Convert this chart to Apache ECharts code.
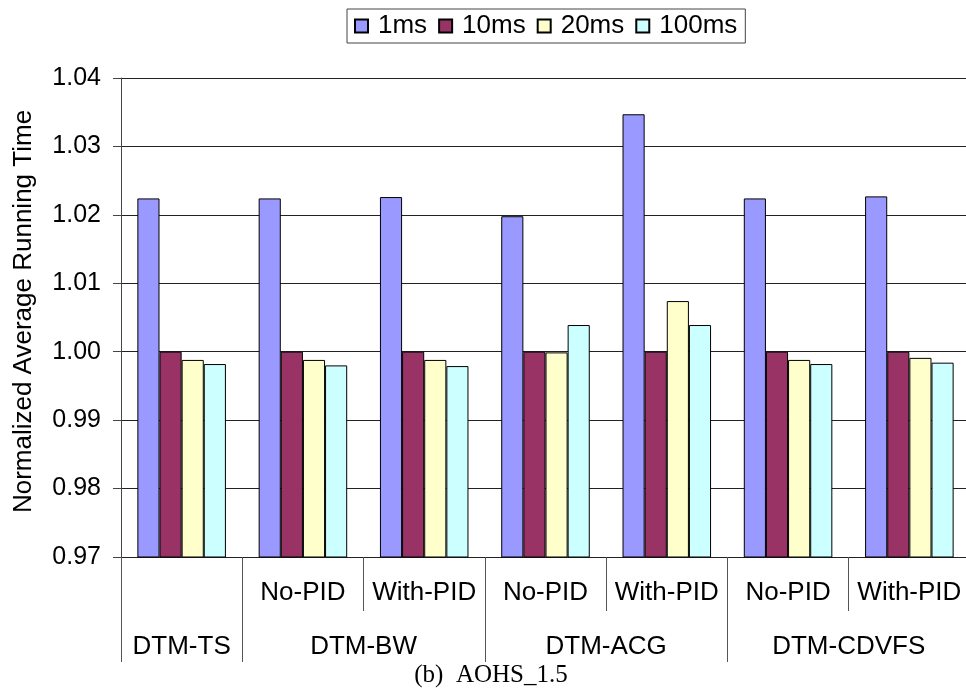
<!DOCTYPE html>
<html>
<head>
<meta charset="utf-8">
<script src="https://cdn.jsdelivr.net/npm/echarts@6/dist/echarts.min.js"></script>
<style>
  html, body { margin: 0; padding: 0; background: #fff; }
  #chart { width: 966px; height: 692px; }
</style>
</head>
<body>
<div id="chart"></div>
<script>
// Sub-category labels (one per bar cluster) and the top-level groups they belong to
const subLabels = ['', 'No-PID', 'With-PID', 'No-PID', 'With-PID', 'No-PID', 'With-PID'];
const groupLabels = ['DTM-TS', 'DTM-BW', 'DTM-ACG', 'DTM-CDVFS'];
const groupSpans = [1, 2, 2, 2];

// Normalized average running time per sampling interval
const seriesNames = ['1ms', '10ms', '20ms', '100ms'];
const ms1   = [1.0224, 1.0224, 1.0226, 1.0198, 1.0347, 1.0224, 1.0227];
const ms10  = [1.0000, 1.0000, 1.0000, 1.0000, 1.0000, 1.0000, 1.0000];
const ms20  = [0.9988, 0.9988, 0.9988, 0.9999, 1.0074, 0.9988, 0.9991];
const ms100 = [0.9982, 0.9980, 0.9979, 1.0039, 1.0039, 0.9982, 0.9984];

const yMin = 0.97, yMax = 1.04, yStep = 0.01;
const caption = '(b)  AOHS_1.5';

const colors = ['#9999FF', '#993366', '#FFFFCC', '#CCFFFF'];
const FONT = '"Liberation Sans", Arial, Helvetica, sans-serif';
const FS = 26;

// Half-category grid used for the group separators and centred group names
const nCat = subLabels.length;
const halfCount = nCat * 2 + 1;
const longTicks = [];
const shortTicks = [];
const groupAt = {};
let start = 0;
groupSpans.forEach((span, g) => {
  longTicks.push(start * 2);
  groupAt[start + (start + span)] = groupLabels[g];
  for (let k = 1; k < span; k++) shortTicks.push((start + k) * 2);
  start += span;
});
longTicks.push(start * 2);
const halfData = Array.from({ length: halfCount }, (_, i) => groupAt[i] || '');

const values = [ms1, ms10, ms20, ms100];

const chart = echarts.init(document.getElementById('chart'), null, { renderer: 'canvas' });
chart.setOption({
  animation: false,
  backgroundColor: '#fff',
  textStyle: { fontFamily: FONT },
  legend: {
    left: 347,
    top: 9,
    icon: 'rect',
    itemWidth: 13,
    itemHeight: 13,
    itemGap: 11,
    padding: [4, 8, 4, 7],
    borderColor: '#444',
    borderWidth: 1,
    backgroundColor: '#fff',
    textStyle: { fontFamily: FONT, fontSize: FS, color: '#000', padding: [0, 0, 0, 5] },
    data: seriesNames
  },
  grid: { left: 121, top: 78, width: 849, height: 479, containLabel: false, outerBoundsMode: 'none' },
  xAxis: [
    {
      type: 'category',
      position: 'bottom',
      data: subLabels,
      boundaryGap: true,
      axisLine: { show: true, lineStyle: { color: '#222', width: 1 } },
      axisTick: { show: false },
      axisLabel: { interval: 0, margin: 23, color: '#000', fontFamily: FONT, fontSize: FS },
      splitLine: { show: false }
    },
    {
      type: 'category',
      position: 'bottom',
      data: halfData,
      boundaryGap: false,
      axisLine: { show: false },
      axisTick: {
        show: true,
        length: 105,
        interval: (i) => longTicks.indexOf(i) >= 0,
        lineStyle: { color: '#555', width: 1 }
      },
      axisLabel: {
        interval: (i) => halfData[i] !== '',
        margin: 77,
        color: '#000',
        fontFamily: FONT,
        fontSize: FS
      },
      splitLine: { show: false }
    },
    {
      type: 'category',
      position: 'bottom',
      data: halfData.map(() => ''),
      boundaryGap: false,
      axisLine: { show: false },
      axisTick: {
        show: true,
        length: 54,
        interval: (i) => shortTicks.indexOf(i) >= 0,
        lineStyle: { color: '#555', width: 1 }
      },
      axisLabel: { show: false },
      splitLine: { show: false }
    }
  ],
  yAxis: {
    type: 'value',
    min: yMin,
    max: yMax,
    interval: yStep,
    name: 'Normalized Average Running Time',
    nameLocation: 'middle',
    nameGap: 84,
    nameTextStyle: { fontFamily: FONT, fontSize: FS, color: '#000', padding: [0, 0, 0, 12] },
    axisLine: { show: true, lineStyle: { color: '#444', width: 1 } },
    axisTick: { show: true, length: 8, lineStyle: { color: '#444' } },
    axisLabel: {
      margin: 20,
      color: '#000',
      fontFamily: FONT,
      fontSize: 25,
      formatter: (v) => v.toFixed(2)
    },
    splitLine: { show: true, lineStyle: { color: '#222', width: 1 } }
  },
  series: seriesNames.map((name, i) => ({
    name,
    type: 'bar',
    xAxisIndex: 0,
    data: values[i],
    barGap: '0%',
    barCategoryGap: '27%',
    itemStyle: { color: colors[i], borderColor: '#000', borderWidth: 1 }
  })),
  graphic: [
    {
      type: 'text',
      x: 491,
      y: 663,
      style: {
        text: caption,
        textAlign: 'center',
        fontFamily: '"Liberation Serif", "Times New Roman", serif',
        fontSize: 25,
        fill: '#000'
      }
    }
  ]
});
</script>
</body>
</html>
